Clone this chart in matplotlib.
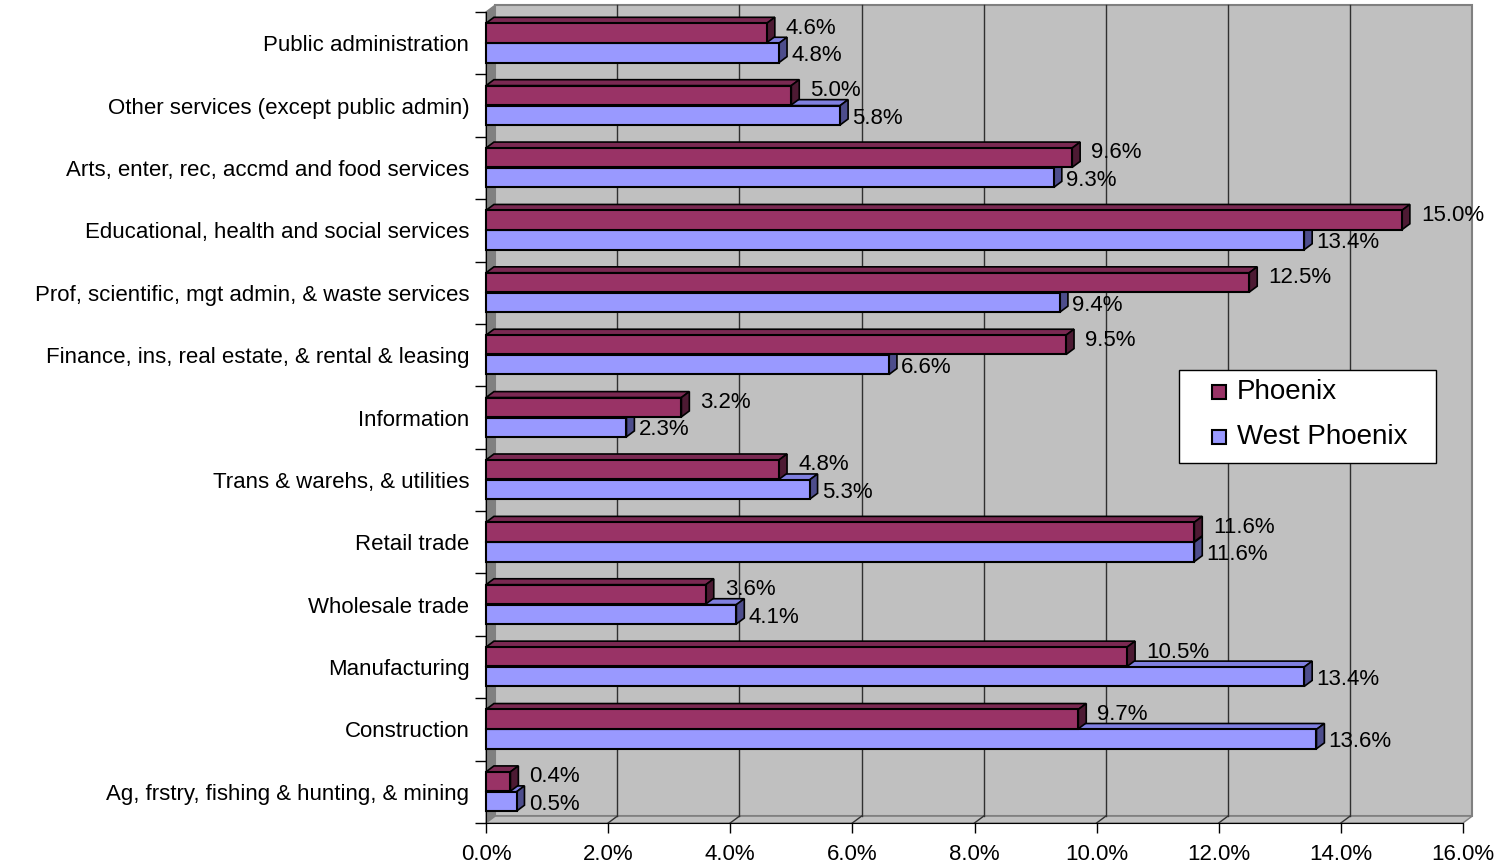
import matplotlib
matplotlib.use("Agg")
import matplotlib.pyplot as plt
from matplotlib.patches import Polygon, Rectangle

plt.rcParams['font.family'] = ['Liberation Sans', 'DejaVu Sans']

# industries, listed top to bottom as in the chart
industries = [
    'Public administration',
    'Other services (except public admin)',
    'Arts, enter, rec, accmd and food services',
    'Educational, health and social services',
    'Prof, scientific, mgt admin, & waste services',
    'Finance, ins, real estate, & rental & leasing',
    'Information',
    'Trans & warehs, & utilities',
    'Retail trade',
    'Wholesale trade',
    'Manufacturing',
    'Construction',
    'Ag, frstry, fishing & hunting, & mining',
]
phoenix = [4.6, 5.0, 9.6, 15.0, 12.5, 9.5, 3.2, 4.8, 11.6, 3.6, 10.5, 9.7, 0.4]
west_phoenix = [4.8, 5.8, 9.3, 13.4, 9.4, 6.6, 2.3, 5.3, 11.6, 4.1, 13.4, 13.6, 0.5]
series_names = ['Phoenix', 'West Phoenix']
series_colors = ['#993366', '#9999FF']
x_ticks = [0, 2, 4, 6, 8, 10, 12, 14, 16]

W, H = 1499, 866
n = len(industries)
xmax = 16
fig = plt.figure(figsize=(W / 100, H / 100), dpi=100)
ax = fig.add_axes([486 / W, 1 - 823 / H, (1463 - 486) / W, (823 - 12) / H])
ax.set_xlim(0, xmax)
ax.set_ylim(-0.5, n - 0.5)
ax.patch.set_visible(False)

# depth of the walls and of the bars, in data units
wdx, wdy = 0.15, 0.11
bdx, bdy = 0.13, 0.095
bh = 0.31

y0, y1 = -0.5, n - 0.5
# back wall, left wall, floor
ax.add_patch(Rectangle((wdx, y0 + wdy), xmax, n, facecolor='#C0C0C0',
                       edgecolor='#808080', lw=1.5, clip_on=False, zorder=0))
ax.add_patch(Polygon([(0, y0), (0, y1), (wdx, y1 + wdy), (wdx, y0 + wdy)],
                     facecolor='#808080', edgecolor='#808080', clip_on=False, zorder=1))
ax.add_patch(Polygon([(0, y0), (xmax, y0), (xmax + wdx, y0 + wdy), (wdx, y0 + wdy)],
                     facecolor='#C0C0C0', edgecolor='#808080', lw=1, clip_on=False, zorder=1))
for xt in x_ticks[1:-1]:
    ax.plot([xt + wdx, xt + wdx], [y0 + wdy, y1 + wdy], color='#303030', lw=1,
            clip_on=False, zorder=1)
    ax.plot([xt, xt + wdx], [y0, y0 + wdy], color='#303030', lw=1, clip_on=False, zorder=1)


def bar3d(v, yb, front, top, side):
    ax.add_patch(Polygon([(0, yb + bh), (v, yb + bh), (v + bdx, yb + bh + bdy), (bdx, yb + bh + bdy)],
                         facecolor=top, edgecolor='black', lw=1.2, clip_on=False, zorder=3))
    ax.add_patch(Polygon([(v, yb), (v + bdx, yb + bdy), (v + bdx, yb + bh + bdy), (v, yb + bh)],
                         facecolor=side, edgecolor='black', lw=1.2, clip_on=False, zorder=3))
    ax.add_patch(Rectangle((0, yb), v, bh, facecolor=front, edgecolor='black',
                           lw=1.5, clip_on=False, zorder=3))


for i in range(n):
    k = n - 1 - i
    bar3d(west_phoenix[i], k - bh, series_colors[1], '#8080E0', '#4D4D8C')
    bar3d(phoenix[i], k + 0.01, series_colors[0], '#7A2952', '#4D1A33')
    ax.text(phoenix[i] + bdx + 0.18, k + 0.24, f'{phoenix[i]:.1f}%', fontsize=16,
            va='center', ha='left', zorder=4)
    ax.text(west_phoenix[i] + 0.2, k - 0.2, f'{west_phoenix[i]:.1f}%', fontsize=16,
            va='center', ha='left', zorder=4)

# axes lines and ticks
for s in ['top', 'right']:
    ax.spines[s].set_visible(False)
ax.spines['left'].set_color('black')
ax.spines['bottom'].set_color('black')
ax.spines['left'].set_zorder(2)
ax.set_xticks(x_ticks)
ax.set_xticklabels([f'{t:.1f}%' for t in x_ticks], fontsize=16)
ax.tick_params(axis='x', length=7, width=1, direction='out', pad=8)
ax.set_yticks(range(n))
ax.set_yticklabels(industries[::-1], fontsize=16)
ax.set_yticks([k - 0.5 for k in range(n + 1)], minor=True)
ax.tick_params(axis='y', which='major', length=0, pad=12)
ax.tick_params(axis='y', which='minor', length=8, width=1, direction='out')

# legend box drawn by hand to match the original layout
fig.patches.append(Rectangle((1179 / W, 1 - 463 / H), 257 / W, 93 / H,
                             transform=fig.transFigure, facecolor='white',
                             edgecolor='black', lw=1, zorder=5))
for j, (name, col) in enumerate(zip(series_names, series_colors)):
    yc = 392 + 45 * j
    fig.patches.append(Rectangle((1212 / W, 1 - (yc + 7) / H), 14 / W, 14 / H,
                                 transform=fig.transFigure, facecolor=col,
                                 edgecolor='black', lw=1.5, zorder=6))
    fig.text(1237 / W, 1 - yc / H, name, fontsize=20, va='center', ha='left', zorder=6)

fig.savefig('out.png', dpi=100)
